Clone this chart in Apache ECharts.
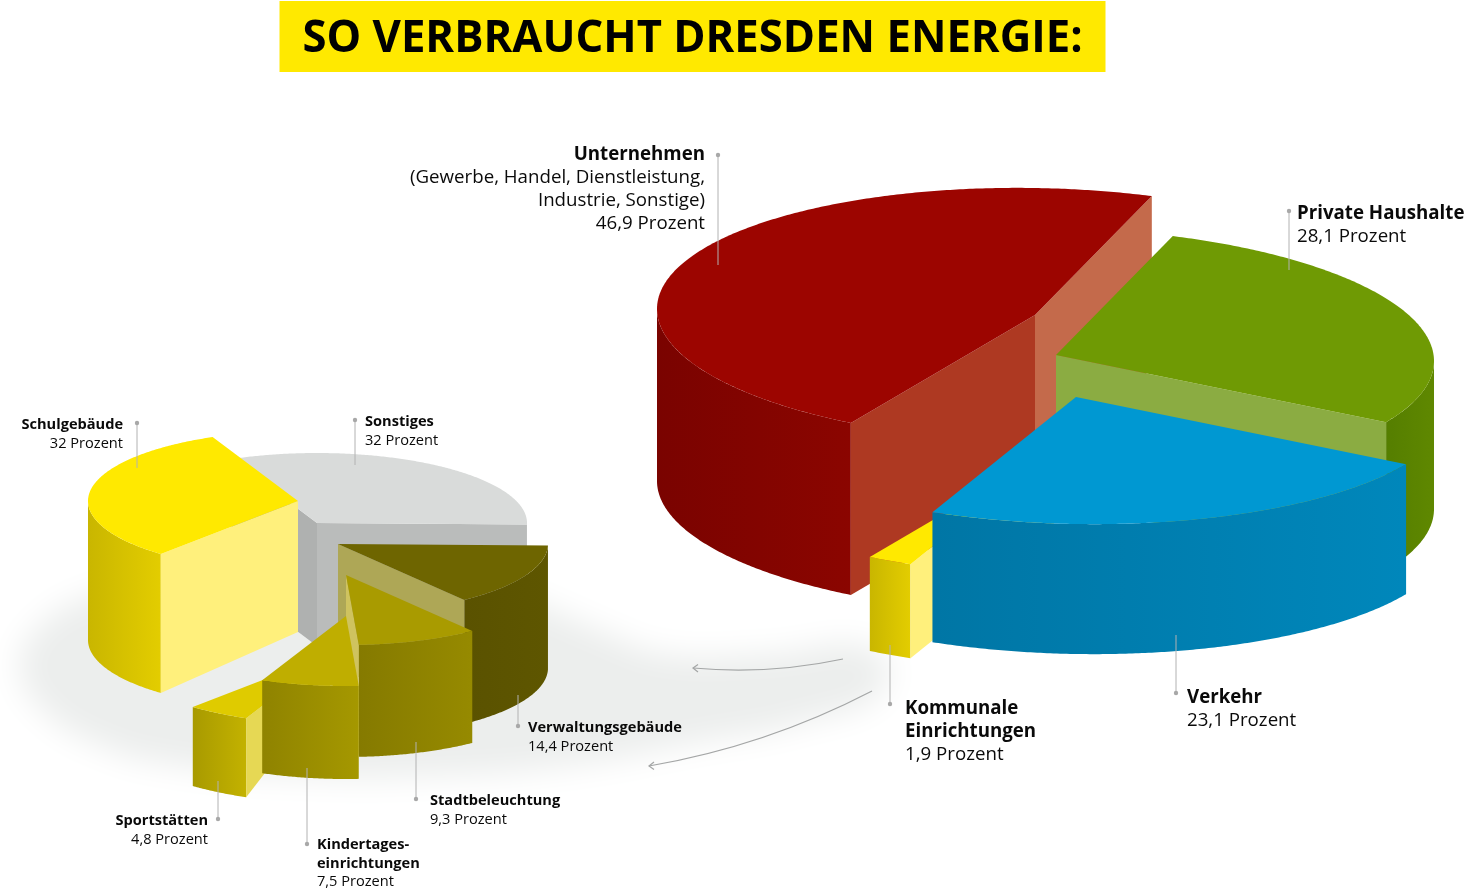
<!DOCTYPE html>
<html>
<head>
<meta charset="utf-8">
<title>So verbraucht Dresden Energie</title>
<style>
    html, body { margin: 0; padding: 0; background: #fff; }
    #main { width: 1464px; height: 889px; }
</style>
<script src="https://cdn.jsdelivr.net/npm/echarts@6/dist/echarts.min.js"></script>
</head>
<body>
<div id="main"></div>
<script type="text/javascript">
    var chartTitle = 'SO VERBRAUCHT DRESDEN ENERGIE:';

    // Gesamtverbrauch, Reihenfolge gegen den Uhrzeigersinn
    var bigNames = ['Unternehmen', 'Kommunale Einrichtungen', 'Verkehr', 'Private Haushalte'];
    var bigValues = [46.9, 1.9, 23.1, 28.1];

    // Kommunale Einrichtungen im Detail
    var smallNames = ['Schulgebäude', 'Sportstätten', 'Kindertageseinrichtungen', 'Stadtbeleuchtung', 'Verwaltungsgebäude', 'Sonstiges'];
    var smallValues = [32, 4.8, 7.5, 9.3, 14.4, 32];

    // Geometrie der Torten (Ellipse, Versatz und Höhe je Stück)
    var bigPie = {
        rx: 378, ry: 127, start: 72, shear: 0.016,
        hubX: [1035, 1054, 1076, 1056],
        hubY: [315, 449, 397, 355],
        depth: [172, 94, 130, 148],
        hubDepth: [172, 94, 130, 148],
        order: [0, 2, 3, 1],
        top: ['#9c0500', '#ffe900', '#0098d2', '#6f9a04'],
        wall: [['#7a0300', '#8b0500'], ['#c9b600', '#e3cd00'], ['#0076a5', '#0087bb'], ['#557e00', '#5f8800']],
        startFace: ['#c46a4b', null, null, '#8bac42'],
        endFace: ['#ae3922', '#fff07c', null, null]
    };
    var smallPie = {
        rx: 210, ry: 70, start: 114, shear: 0,
        hubX: [298, 330, 346, 346, 338, 317],
        hubY: [501, 654, 616, 575, 544, 523],
        depth: [139, 79, 93, 112, 124, 123],
        hubDepth: [131, 35, 93, 112, 124, 123],
        order: [1, 4, 5, 3, 2, 0],
        top: ['#ffe900', '#dfcb00', '#bfae00', '#a99b00', '#6e6500', '#d9dbda'],
        wall: [['#c9b600', '#e3cd00'], ['#a89a00', '#c3b200'], ['#8f8300', '#a59800'], ['#857a00', '#968a00'], ['#5a5200', '#5e5600'], ['#babcbb', '#babcbb']],
        startFace: [null, null, null, '#cfc35f', '#aea756', '#babcbb'],
        endFace: ['#fff07c', '#e6d854', null, null, null, '#afb1b0']
    };

    function getAngles(values, start) {
        var sum = values.reduce(function (a, b) { return a + b; }, 0);
        var a = start;
        return values.map(function (v) {
            var s = a;
            a += v / sum * 360;
            return [s, a];
        });
    }

    function rimPoint(pie, i, deg, down) {
        var r = deg * Math.PI / 180;
        var dx = pie.rx * Math.cos(r);
        return [pie.hubX[i] + dx, pie.hubY[i] - pie.ry * Math.sin(r) + pie.shear * dx + (down || 0)];
    }

    function arcPoints(pie, i, from, to, down) {
        var pts = [];
        var n = Math.max(2, Math.ceil((to - from) * 2));
        for (var k = 0; k <= n; k++) {
            pts.push(rimPoint(pie, i, from + (to - from) * k / n, down));
        }
        return pts;
    }

    function poly(points, fill, z2) {
        return { type: 'polygon', z2: z2, shape: { points: points }, style: { fill: fill } };
    }

    function facing(deg) {
        return Math.sin(deg * Math.PI / 180) < 0;
    }

    function makeRender(pie, values) {
        var angles = getAngles(values, pie.start);
        return function (params, api) {
            var i = params.dataIndex;
            var a0 = angles[i][0], a1 = angles[i][1];
            var h = pie.depth[i];
            var hh = pie.hubDepth[i];
            var z = pie.order[i] * 10;
            var hub = [pie.hubX[i], pie.hubY[i]];
            var children = [];

            // nur die vordere Hälfte des Rands ist sichtbar
            var from = Math.max(a0, 180), to = Math.min(a1, 360);
            if (to > from) {
                var upper = arcPoints(pie, i, from, to, 0);
                var lower = arcPoints(pie, i, from, to, h).reverse();
                children.push(poly(upper.concat(lower), new echarts.graphic.LinearGradient(0, 0, 1, 0, [
                    { offset: 0, color: pie.wall[i][0] },
                    { offset: 1, color: pie.wall[i][1] }
                ]), z));
            }
            if (pie.startFace[i] && facing(a0 - 90)) {
                var s = rimPoint(pie, i, a0);
                children.push(poly([hub, s, [s[0], s[1] + h], [hub[0], hub[1] + hh]], pie.startFace[i], z + 1));
            }
            if (pie.endFace[i] && facing(a1 + 90)) {
                var e = rimPoint(pie, i, a1);
                children.push(poly([hub, e, [e[0], e[1] + h], [hub[0], hub[1] + hh]], pie.endFace[i], z + 2));
            }
            children.push(poly([hub].concat(arcPoints(pie, i, a0, a1, 0)), pie.top[i], z + 3));
            return { type: 'group', children: children };
        };
    }

    function pieSeries(pie, names, values) {
        return {
            type: 'custom',
            coordinateSystem: 'none',
            silent: true,
            renderItem: makeRender(pie, values),
            data: names.map(function (n, i) { return { name: n, value: [values[i]] }; })
        };
    }

    function pct(v) {
        return String(v).replace('.', ',') + ' Prozent';
    }

    var elements = [];
    var lineColor = '#b2b2b2';
    var bigFont = 18.7, smallFont = 14.6;

    function addText(text, x, y, size, bold, align) {
        elements.push({
            type: 'text', z: 100, silent: true,
            style: {
                x: x, y: y, text: text, fill: '#0a0a0a', align: align, verticalAlign: 'middle',
                font: (bold ? 'bold ' : '') + size + 'px "Open Sans"'
            }
        });
    }

    // Beschriftung: fette Zeilen, normale Zeilen, Zeilenabstand
    function addLabel(bold, plain, x, y, size, step, align) {
        bold.concat(plain).forEach(function (t, k) {
            addText(t, x, y + k * step, size, k < bold.length, align);
        });
    }

    function addLeader(x, y1, y2, dotY) {
        elements.push({ type: 'line', z: 100, silent: true, shape: { x1: x, y1: y1, x2: x, y2: y2 }, style: { stroke: lineColor, lineWidth: 1 } });
        elements.push({ type: 'circle', z: 100, silent: true, shape: { cx: x, cy: dotY, r: 2.2 }, style: { fill: '#a8a8a8' } });
    }

    function addArrow(x1, y1, cx, cy, x2, y2, head) {
        elements.push({ type: 'bezierCurve', z: 100, silent: true, shape: { x1: x1, y1: y1, x2: x2, y2: y2, cpx1: cx, cpy1: cy }, style: { stroke: '#a4a6a6', lineWidth: 1.2, fill: 'none' } });
        elements.push({ type: 'polyline', z: 100, silent: true, shape: { points: head }, style: { stroke: '#a4a6a6', lineWidth: 1.2, fill: 'none' } });
    }

    // Schatten unter der kleinen Torte: Form liegt ausserhalb, nur ihr weicher Schatten ist sichtbar
    elements.push({
        type: 'polygon', z: -1, silent: true, x: -2000,
        shape: {
            smooth: 0.5,
            points: [[20, 668], [36, 630], [92, 596], [200, 573], [330, 560], [450, 568], [548, 608], [603, 632], [665, 654], [765, 654], [872, 648], [884, 690], [805, 722], [700, 742], [567, 766], [430, 776], [300, 776], [168, 764], [97, 744], [42, 709]]
        },
        style: { fill: '#eceeed', shadowBlur: 32, shadowColor: '#eceeed', shadowOffsetX: 2000 }
    });

    // Titel
    elements.push({ type: 'rect', z: 90, silent: true, shape: { x: 279.5, y: 1, width: 826, height: 71 }, style: { fill: '#ffe900' } });
    elements.push({
        type: 'text', z: 100, silent: true, x: 692.5, y: 39.5, scaleX: 0.97,
        style: { x: 0, y: 0, text: chartTitle, fill: '#000', align: 'center', verticalAlign: 'middle', font: 'bold 45px "Open Sans"' }
    });

    addLeader(718, 155, 265, 155);
    addLabel([bigNames[0]], ['(Gewerbe, Handel, Dienstleistung,', 'Industrie, Sonstige)', pct(bigValues[0])], 705, 154.5, bigFont, 23, 'right');
    addLeader(1289, 211, 270, 211);
    addLabel([bigNames[3]], [pct(bigValues[3])], 1297, 214, bigFont, 23, 'left');
    addLeader(1176, 635, 693, 693);
    addLabel([bigNames[2]], [pct(bigValues[2])], 1187, 698, bigFont, 23, 'left');
    addLeader(890, 645, 704, 704);
    addLabel(bigNames[1].split(' '), [pct(bigValues[1])], 905, 709, bigFont, 23, 'left');

    addLeader(137, 423, 468, 423);
    addLabel([smallNames[0]], [pct(smallValues[0])], 123, 424.5, smallFont, 19, 'right');
    addLeader(355, 420, 465, 420);
    addLabel([smallNames[5]], [pct(smallValues[5])], 365, 421.5, smallFont, 19, 'left');
    addLeader(518, 695, 726, 726);
    addLabel([smallNames[4]], [pct(smallValues[4])], 528, 727.5, smallFont, 19, 'left');
    addLeader(416, 742, 799, 799);
    addLabel([smallNames[3]], [pct(smallValues[3])], 430, 800.5, smallFont, 19, 'left');
    addLeader(307, 768, 844, 844);
    addLabel(['Kindertages-', 'einrichtungen'], [pct(smallValues[2])], 317, 845, smallFont, 18.5, 'left');
    addLeader(218, 781, 819, 819);
    addLabel([smallNames[1]], [pct(smallValues[1])], 208, 821, smallFont, 19, 'right');

    addArrow(843, 659, 768, 675, 693, 668, [[698, 664.5], [693, 668], [698, 672]]);
    addArrow(872, 691, 766, 746, 649, 766, [[654, 762], [649, 766], [654, 769.5]]);

    var chart = echarts.init(document.getElementById('main'));
    chart.setOption({
        animation: false,
        backgroundColor: '#fff',
        graphic: { elements: elements },
        series: [
            pieSeries(smallPie, smallNames, smallValues),
            pieSeries(bigPie, bigNames, bigValues)
        ]
    });
</script>
</body>
</html>
